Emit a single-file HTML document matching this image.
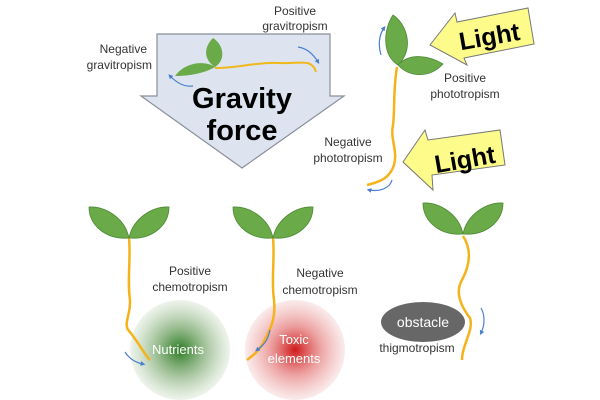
<!DOCTYPE html>
<html><head><style>html,body{margin:0;padding:0;background:#fff}svg{display:block}text{font-family:"Liberation Sans",sans-serif}</style></head>
<body>
<svg width="600" height="400" viewBox="0 0 600 400" xmlns="http://www.w3.org/2000/svg">
<defs>
<marker id="ah" viewBox="0 0 6 6" refX="3" refY="3" markerWidth="4" markerHeight="4" orient="auto"><path d="M0,0 L6,3 L0,6Z" fill="#4a7fd0"/></marker>
<radialGradient id="g" cx="50%" cy="50%" r="50%"><stop offset="0" stop-color="#2a7a22"/><stop offset="0.5" stop-color="#7aa86e" stop-opacity="0.7"/><stop offset="1" stop-color="#dde8d8" stop-opacity="0.5"/></radialGradient>
<radialGradient id="r" cx="50%" cy="50%" r="50%"><stop offset="0" stop-color="#d01a1a"/><stop offset="0.5" stop-color="#e88a8a" stop-opacity="0.8"/><stop offset="1" stop-color="#f7dede" stop-opacity="0.6"/></radialGradient>
<g id="leaf"><path d="M0,0 C-4,-20 -24,-32 -40,-31 C-40,-12 -22,2 0,0Z" fill="#6aaa48" stroke="#4e8a35" stroke-width="0.8"/><path d="M0,0 C4,-20 24,-32 40,-31 C40,-12 22,2 0,0Z" fill="#6aaa48" stroke="#4e8a35" stroke-width="0.8"/></g>
</defs>
<polygon points="157,34 330,34 330,96 344,96 242,168 141,96 157,96" fill="#dde4f0" stroke="#8a8f99" stroke-width="1.2"/>
<text x="242" y="108" font-size="29" font-weight="bold" text-anchor="middle">Gravity</text>
<text x="242" y="140" font-size="29" font-weight="bold" text-anchor="middle">force</text>
<path d="M215,68 C240,68 255,62 280,63 C300,64 312,58 316,72" fill="none" stroke="#f0b81a" stroke-width="2"/>
<path d="M215,67 C205,73 190,76 175,76 C185,62 205,60 215,67Z" fill="#6aaa48"/>
<path d="M215,67 C226,60 224,45 213,38 C203,48 204,60 215,67Z" fill="#6aaa48"/>
<path d="M298,47 C305,48 312,52 318,62" fill="none" stroke="#4a7fd0" stroke-width="1.2" marker-end="url(#ah)"/>
<path d="M193,86 C185,87 178,84 170,76" fill="none" stroke="#4a7fd0" stroke-width="1.2" marker-end="url(#ah)"/>
<text font-size="12" fill="#333" text-anchor="middle"><tspan x="295" y="15">Positive</tspan><tspan x="295" y="30">gravitropism</tspan></text>
<text font-size="12" fill="#333" text-anchor="end"><tspan x="147" y="53">Negative</tspan><tspan x="152" y="69">gravitropism</tspan></text>
<polygon points="430,45 455,13 457,22 528,8 534,44 464,58 467,65" fill="#fdfc8a" stroke="#777" stroke-width="1"/>
<text x="490" y="45" font-size="25" font-weight="bold" text-anchor="middle" transform="rotate(-10 490 40)">Light</text>
<polygon points="403,162 425,130 428,140 500,130 505,165 432,175 433,190" fill="#fdfc8a" stroke="#777" stroke-width="1"/>
<text x="465" y="168" font-size="25" font-weight="bold" text-anchor="middle" transform="rotate(-10 465 160)">Light</text>
<path d="M397,67 C393,90 395,110 393,125 C390,140 398,150 394,165 C390,178 380,182 367,185" fill="none" stroke="#f5b21a" stroke-width="2.5"/>
<path d="M398,65 C382,55 383,30 393,15 C408,25 414,50 398,65Z" fill="#6aaa48" stroke="#4e8a35" stroke-width="0.8"/>
<path d="M398,65 C410,52 430,56 443,64 C430,78 410,78 398,65Z" fill="#6aaa48" stroke="#4e8a35" stroke-width="0.8"/>
<path d="M381,55 C378,45 379,35 384,28" fill="none" stroke="#4a7fd0" stroke-width="1.2" marker-end="url(#ah)"/>
<path d="M392,180 C390,188 380,192 369,190" fill="none" stroke="#4a7fd0" stroke-width="1.2" marker-end="url(#ah)"/>
<text font-size="12" fill="#333" text-anchor="middle"><tspan x="465" y="82">Positive</tspan><tspan x="465" y="98">phototropism</tspan></text>
<text font-size="12" fill="#333" text-anchor="middle"><tspan x="348" y="146">Negative</tspan><tspan x="348" y="162">phototropism</tspan></text>
<circle cx="180" cy="350" r="50" fill="url(#g)"/>
<circle cx="295" cy="350" r="50" fill="url(#r)"/>
<ellipse cx="423" cy="322" rx="42" ry="20" fill="#676767"/>
<path d="M129,238 C131,260 127,280 130,300 C131,315 122,325 130,332 C140,345 145,355 150,360" fill="none" stroke="#f5b21a" stroke-width="2.5"/>
<use href="#leaf" x="129" y="238"/>
<path d="M273,238 C275,260 271,280 274,300 C276,320 270,330 262,345 C258,352 252,356 247,360" fill="none" stroke="#f5b21a" stroke-width="2.5"/>
<use href="#leaf" x="273" y="238"/>
<path d="M463,236 C472,250 470,265 462,280 C455,292 460,305 470,318 C474,330 462,345 462,360" fill="none" stroke="#f5b21a" stroke-width="2.5"/>
<use href="#leaf" x="463" y="234"/>
<path d="M125,352 C130,360 138,363 143,364" fill="none" stroke="#4a7fd0" stroke-width="1.2" marker-end="url(#ah)"/>
<path d="M270,330 C268,340 264,345 257,350" fill="none" stroke="#4a7fd0" stroke-width="1.2" marker-end="url(#ah)"/>
<path d="M481,308 C485,315 485,325 481,333" fill="none" stroke="#4a7fd0" stroke-width="1.2" marker-end="url(#ah)"/>
<text x="178" y="354" font-size="13" fill="#fff" text-anchor="middle">Nutrients</text>
<text font-size="13" fill="#fff" text-anchor="middle"><tspan x="294" y="344">Toxic</tspan><tspan x="294" y="363">elements</tspan></text>
<text x="423" y="327" font-size="14" fill="#fff" text-anchor="middle">obstacle</text>
<text x="417" y="352" font-size="12" fill="#333" text-anchor="middle">thigmotropism</text>
<text font-size="12" fill="#333" text-anchor="middle"><tspan x="190" y="275">Positive</tspan><tspan x="190" y="291">chemotropism</tspan></text>
<text font-size="12" fill="#333" text-anchor="middle"><tspan x="320" y="277">Negative</tspan><tspan x="320" y="294">chemotropism</tspan></text>
</svg>
</body></html>
